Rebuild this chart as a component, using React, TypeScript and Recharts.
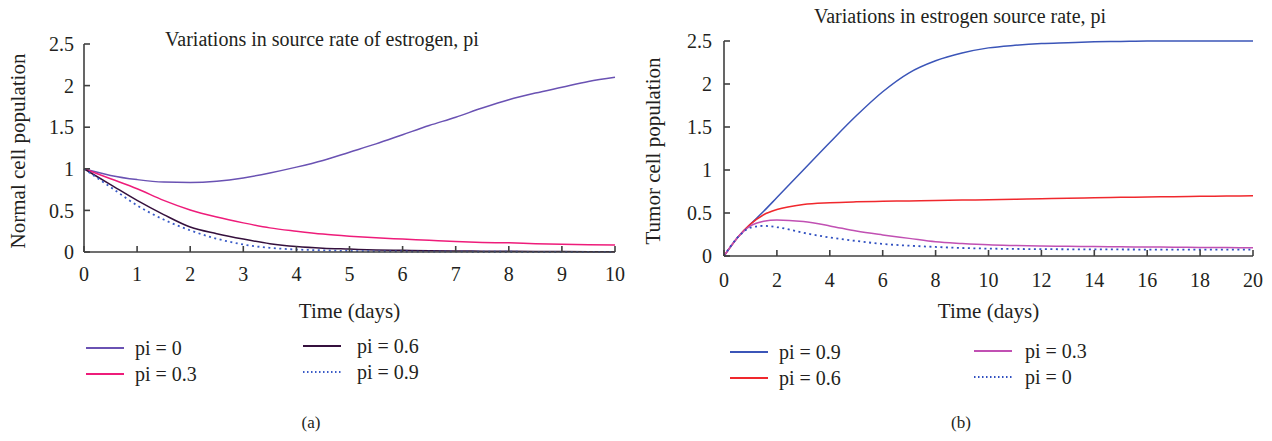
import React from 'react';
import { LineChart, Line, XAxis, YAxis, Legend, Label } from 'recharts';

// (a) normal cells, days 0..10 every half day
const normalDays = [0, 0.5, 1, 1.5, 2, 2.5, 3, 3.5, 4, 4.5, 5, 5.5, 6, 6.5, 7, 7.5, 8, 8.5, 9, 9.5, 10];
const normalPi0 = [1.0, 0.92, 0.87, 0.84, 0.835, 0.85, 0.89, 0.95, 1.02, 1.1, 1.2, 1.3, 1.41, 1.52, 1.62, 1.73, 1.83, 1.91, 1.98, 2.05, 2.1];
const normalPi03 = [1.0, 0.88, 0.76, 0.62, 0.505, 0.42, 0.35, 0.29, 0.25, 0.215, 0.19, 0.17, 0.155, 0.14, 0.125, 0.115, 0.11, 0.1, 0.093, 0.088, 0.085];
const normalPi06 = [1.0, 0.81, 0.62, 0.45, 0.3, 0.22, 0.155, 0.1, 0.065, 0.045, 0.035, 0.025, 0.02, 0.015, 0.012, 0.01, 0.008, 0.006, 0.005, 0.004, 0.003];
const normalPi09 = [1.0, 0.78, 0.56, 0.39, 0.26, 0.16, 0.09, 0.05, 0.03, 0.02, 0.012, 0.008, 0.006, 0.005, 0.004, 0.003, 0.003, 0.002, 0.002, 0.002, 0.002];

// (b) tumor cells, days 0..20
const tumorDays = [0, 0.5, 1, 1.5, 2, 3, 4, 5, 6, 7, 8, 9, 10, 11, 12, 13, 14, 15, 16, 17, 18, 19, 20];
const tumorPi09 = [0, 0.21, 0.37, 0.52, 0.68, 1.0, 1.32, 1.63, 1.91, 2.13, 2.27, 2.36, 2.42, 2.45, 2.47, 2.48, 2.49, 2.495, 2.5, 2.5, 2.5, 2.5, 2.5];
const tumorPi06 = [0, 0.21, 0.37, 0.48, 0.54, 0.6, 0.62, 0.63, 0.636, 0.64, 0.645, 0.65, 0.655, 0.66, 0.665, 0.671, 0.677, 0.682, 0.686, 0.69, 0.694, 0.697, 0.7];
const tumorPi03 = [0, 0.21, 0.35, 0.405, 0.42, 0.4, 0.35, 0.29, 0.245, 0.205, 0.165, 0.145, 0.13, 0.122, 0.116, 0.113, 0.11, 0.107, 0.105, 0.102, 0.1, 0.098, 0.096];
const tumorPi0 = [0, 0.21, 0.33, 0.35, 0.335, 0.27, 0.215, 0.175, 0.14, 0.12, 0.105, 0.093, 0.086, 0.082, 0.08, 0.078, 0.077, 0.076, 0.075, 0.075, 0.074, 0.074, 0.073];

const yTicks = [0, 0.5, 1, 1.5, 2, 2.5];
const normalXTicks = [0, 1, 2, 3, 4, 5, 6, 7, 8, 9, 10];
const tumorXTicks = [0, 2, 4, 6, 8, 10, 12, 14, 16, 18, 20];

const normalData = normalDays.map((day, i) => ({
  day,
  pi0: normalPi0[i],
  pi03: normalPi03[i],
  pi06: normalPi06[i],
  pi09: normalPi09[i],
}));

const tumorData = tumorDays.map((day, i) => ({
  day,
  pi09: tumorPi09[i],
  pi06: tumorPi06[i],
  pi03: tumorPi03[i],
  pi0: tumorPi0[i],
}));

const FONT = '"Liberation Serif", "Times New Roman", serif';
const INK = '#231f20';
const AXIS = '#404040';

const normalSeries = [
  { key: 'pi0', name: 'pi = 0', color: '#6a52b3', dash: undefined },
  { key: 'pi03', name: 'pi = 0.3', color: '#ee1c7a', dash: undefined },
  { key: 'pi06', name: 'pi = 0.6', color: '#35103d', dash: undefined },
  { key: 'pi09', name: 'pi = 0.9', color: '#3a5bc7', dash: '2 3.5' },
];

const tumorSeries = [
  { key: 'pi09', name: 'pi = 0.9', color: '#3b55b8', dash: undefined },
  { key: 'pi06', name: 'pi = 0.6', color: '#f0282d', dash: undefined },
  { key: 'pi03', name: 'pi = 0.3', color: '#c150b3', dash: undefined },
  { key: 'pi0', name: 'pi = 0', color: '#2f4fc0', dash: '2 3.5' },
];

// legend slots: line start x, row centre y, text start x
const normalSlots = [
  { x: 86, y: 348, tx: 135 },
  { x: 86, y: 374, tx: 135 },
  { x: 303, y: 346, tx: 357 },
  { x: 303, y: 372, tx: 357 },
];
const tumorSlots = [
  { x: 90, y: 352, tx: 139 },
  { x: 90, y: 378, tx: 139 },
  { x: 334, y: 351, tx: 385 },
  { x: 334, y: 377, tx: 385 },
];

const tickStyle = { fontFamily: FONT, fontSize: 20, fill: INK };

function makeLegend(series, slots) {
  return () => (
    <div style={{ position: 'relative', width: '100%', height: '100%' }}>
      {series.map((s, i) => {
        const slot = slots[i];
        return (
          <div key={s.key}>
            <svg
              width={38}
              height={6}
              style={{ position: 'absolute', left: slot.x, top: slot.y - 3 }}
            >
              <line x1={0} y1={3} x2={38} y2={3} stroke={s.color} strokeWidth={2} strokeDasharray={s.dash ? '1.5 2.5' : undefined} />
            </svg>
            <div
              style={{
                position: 'absolute',
                left: slot.tx,
                top: slot.y - 13,
                height: 26,
                lineHeight: '26px',
                fontFamily: FONT,
                fontSize: 20,
                color: INK,
                whiteSpace: 'nowrap',
              }}
            >
              {s.name}
            </div>
          </div>
        );
      })}
    </div>
  );
}

function Panel({ width, data, series, slots, top, right, bottom, xTicks, xMax, xMargin, yMargin, yLabel, labelX }) {
  return (
    <LineChart
      width={width}
      height={441}
      data={data}
      margin={{ top, right, left: 0, bottom }}
    >
      <XAxis
        dataKey="day"
        type="number"
        domain={[0, xMax]}
        ticks={xTicks}
        interval={0}
        height={80}
        tickSize={-6}
        tickMargin={xMargin}
        axisLine={{ stroke: AXIS, strokeWidth: 1.6 }}
        tickLine={{ stroke: AXIS, strokeWidth: 1.6 }}
        tick={tickStyle}
      >
        <Label
          content={({ viewBox }) => (
            <text
              x={viewBox.x + viewBox.width / 2}
              y={318}
              textAnchor="middle"
              style={{ fontFamily: FONT, fontSize: 21, fill: INK }}
            >
              Time (days)
            </text>
          )}
        />
      </XAxis>
      <YAxis
        type="number"
        domain={[0, 2.5]}
        ticks={yTicks}
        interval={0}
        width={84}
        tickSize={-6}
        tickMargin={yMargin}
        axisLine={{ stroke: AXIS, strokeWidth: 1.6 }}
        tickLine={{ stroke: AXIS, strokeWidth: 1.6 }}
        tick={tickStyle}
      >
        <Label
          content={() => (
            <text
              x={labelX}
              y={151}
              textAnchor="middle"
              transform={`rotate(-90, ${labelX}, 151)`}
              style={{ fontFamily: FONT, fontSize: 21, fill: INK }}
            >
              {yLabel}
            </text>
          )}
        />
      </YAxis>
      <Legend
        layout="horizontal"
        verticalAlign="middle"
        align="center"
        wrapperStyle={{ left: 0, top: 0, width, height: 441 }}
        content={makeLegend(series, slots)}
      />
      {series.map((s) => (
        <Line
          key={s.key}
          type="monotone"
          dataKey={s.key}
          name={s.name}
          stroke={s.color}
          strokeWidth={s.dash ? 1.8 : 1.5}
          strokeDasharray={s.dash}
          dot={false}
          isAnimationActive={false}
        />
      ))}
    </LineChart>
  );
}

const captionStyle = {
  position: 'absolute',
  fontFamily: FONT,
  color: INK,
  whiteSpace: 'nowrap',
  transform: 'translateX(-50%)',
};

export default function App() {
  return (
    <div style={{ position: 'absolute', left: 0, top: 0, width: 1272, height: 441, background: '#fff', overflow: 'hidden' }}>
      <div style={{ position: 'absolute', left: 0, top: 0 }}>
        <Panel
          width={640}
          data={normalData}
          series={normalSeries}
          slots={normalSlots}
          top={44}
          right={25}
          bottom={109}
          xTicks={normalXTicks}
          xMax={10}
          xMargin={21}
          yMargin={16}
          yLabel="Normal cell population"
          labelX={25}
        />
      </div>
      <div style={{ position: 'absolute', left: 640, top: 0 }}>
        <Panel
          width={632}
          data={tumorData}
          series={tumorSeries}
          slots={tumorSlots}
          top={41}
          right={19}
          bottom={105}
          xTicks={tumorXTicks}
          xMax={20}
          xMargin={23}
          yMargin={18}
          yLabel="Tumor cell population"
          labelX={20}
        />
      </div>
      <div style={{ ...captionStyle, left: 322, top: 29, fontSize: 20, lineHeight: '20px' }}>
        Variations in source rate of estrogen, pi
      </div>
      <div style={{ ...captionStyle, left: 960, top: 6, fontSize: 20, lineHeight: '20px' }}>
        Variations in estrogen source rate, pi
      </div>
      <div style={{ ...captionStyle, left: 311, top: 414, fontSize: 17, lineHeight: '17px' }}>(a)</div>
      <div style={{ ...captionStyle, left: 961, top: 414, fontSize: 17, lineHeight: '17px' }}>(b)</div>
    </div>
  );
}
